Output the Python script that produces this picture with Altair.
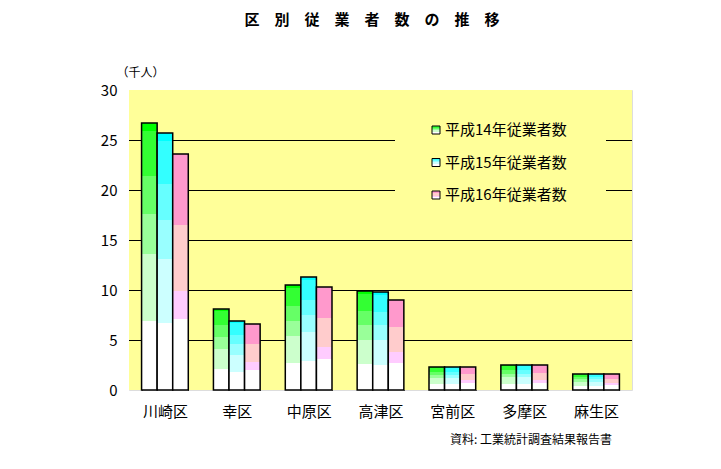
import altair as alt
import pandas as pd

FONT = "Noto Sans CJK JP"
YELLOW = "#ffff99"

districts = ["川崎区", "幸区", "中原区", "高津区", "宮前区", "多摩区", "麻生区"]
series = ["平成14年従業者数", "平成15年従業者数", "平成16年従業者数"]
h14 = [26.7, 8.1, 10.5, 9.9, 2.3, 2.5, 1.6]
h15 = [25.7, 6.9, 11.3, 9.8, 2.3, 2.5, 1.6]
h16 = [23.6, 6.6, 10.3, 9.0, 2.3, 2.5, 1.6]
y_ticks = [0, 5, 10, 15, 20, 25, 30]
grid_values = [5, 10, 15, 20, 25]
title_text = "区　別　従　業　者　数　の　推　移"
unit_text = "（千人）"
source_text = "資料: 工業統計調査結果報告書"

# banded gradient colours, bottom -> top (colour, start, end as share of bar height)
green_bands = [("#ffffff", 0, 0.26), ("#ccffcc", 0.26, 0.51), ("#99ff99", 0.51, 0.66),
               ("#66ff66", 0.66, 0.80), ("#33ff33", 0.80, 0.97), ("#00ff00", 0.97, 1)]
cyan_bands = [("#ffffff", 0, 0.26), ("#ccffff", 0.26, 0.51), ("#99ffff", 0.51, 0.66),
              ("#66ffff", 0.66, 0.80), ("#33ffff", 0.80, 0.97), ("#00ffff", 0.97, 1)]
pink_bands = [("#ffffff", 0, 0.30), ("#ffccff", 0.30, 0.42), ("#ffcccc", 0.42, 0.70),
              ("#ff99cc", 0.70, 1)]


def gradient(bands):
    stops = []
    for c, a, b in bands:
        stops.append(alt.GradientStop(offset=a, color=c))
        stops.append(alt.GradientStop(offset=b, color=c))
    return alt.LinearGradient(gradient="linear", stops=stops, x1=0, x2=0, y1=1, y2=0)


grads = [gradient(green_bands), gradient(cyan_bands), gradient(pink_bands)]

rows = []
for s, vals in zip(series, [h14, h15, h16]):
    for d, v in zip(districts, vals):
        rows.append({"district": d, "series": s, "value": v})
df = pd.DataFrame(rows)

x_enc = alt.X(
    "district:N", sort=districts,
    scale=alt.Scale(domain=districts, paddingInner=0.35, paddingOuter=0.175),
    axis=alt.Axis(title=None, labelAngle=0, tickBand="extent", tickSize=5, offset=-5,
                  domain=False, labelPadding=14, labelFontSize=15, labelFont=FONT,
                  labelColor="black", tickColor="black", tickWidth=1, grid=False),
)
xo_enc = alt.XOffset("series:N", scale=alt.Scale(domain=series, paddingInner=0, paddingOuter=0))
y_enc = alt.Y(
    "value:Q", scale=alt.Scale(domain=[0, 30], nice=False),
    axis=alt.Axis(values=y_ticks, title=unit_text, titleAngle=0,
                  titleX=11, titleY=-18, titleAlign="center", titleBaseline="middle",
                  titleFontSize=12, titleFont=FONT, titleFontWeight="normal", titleColor="black",
                  labelFontSize=15, labelFont=FONT, labelColor="black", ticks=False,
                  labelPadding=12, domain=False, grid=False),
)

one = pd.DataFrame({"a": [0]})

layers = []
# plot background
layers.append(alt.Chart(one).mark_rect(fill=YELLOW).encode(
    x=alt.value(0), x2=alt.value(503), y=alt.value(0), y2=alt.value(300)))
# horizontal gridlines
layers.append(alt.Chart(pd.DataFrame({"value": grid_values})).mark_rule(
    color="black", strokeWidth=1, yOffset=0.5).encode(y=y_enc))

for s, g in zip(series, grads):
    layers.append(
        alt.Chart(df).transform_filter(alt.datum.series == s)
        .mark_bar(fill=g, stroke="black", strokeWidth=1.5)
        .encode(x=x_enc, xOffset=xo_enc, y=y_enc)
    )

# legend box
layers.append(alt.Chart(one).mark_rect(fill=YELLOW).encode(
    x=alt.value(266), x2=alt.value(477), y=alt.value(15), y2=alt.value(130)))
for i, (s, g) in enumerate(zip(series, grads)):
    yy = 40 + 32.5 * i
    sym = alt.Chart(pd.DataFrame({"label": [s]})).mark_rect(
        fill=g, stroke="black", strokeWidth=1
    ).encode(x=alt.value(303), x2=alt.value(311), y=alt.value(yy - 4), y2=alt.value(yy + 4))
    txt = alt.Chart(pd.DataFrame({"label": [s]})).mark_text(
        align="left", baseline="middle", font=FONT, fontSize=15, color="black"
    ).encode(x=alt.value(316), y=alt.value(yy), text="label:N")
    layers += [sym, txt]

src = alt.Chart(pd.DataFrame({"t": [source_text]})).mark_text(
    align="right", baseline="middle", font=FONT, fontSize=12, color="black"
).encode(x=alt.value(483), y=alt.value(350), text="t:N")
layers.append(src)

ttl = alt.Chart(pd.DataFrame({"t": [title_text]})).mark_text(
    align="center", baseline="middle", font=FONT, fontSize=15, fontWeight="bold", color="black"
).encode(x=alt.value(243), y=alt.value(-70), text="t:N")
layers.append(ttl)

chart = alt.layer(*layers).properties(
    width=503, height=300,
    autosize=alt.AutoSizeParams(type="none"),
    padding={"left": 121, "top": 82, "right": 81, "bottom": 71},
).configure_view(stroke="black", strokeWidth=1).configure(background="white")

chart.save("out.html", embed_options={"renderer": "svg", "actions": False})
